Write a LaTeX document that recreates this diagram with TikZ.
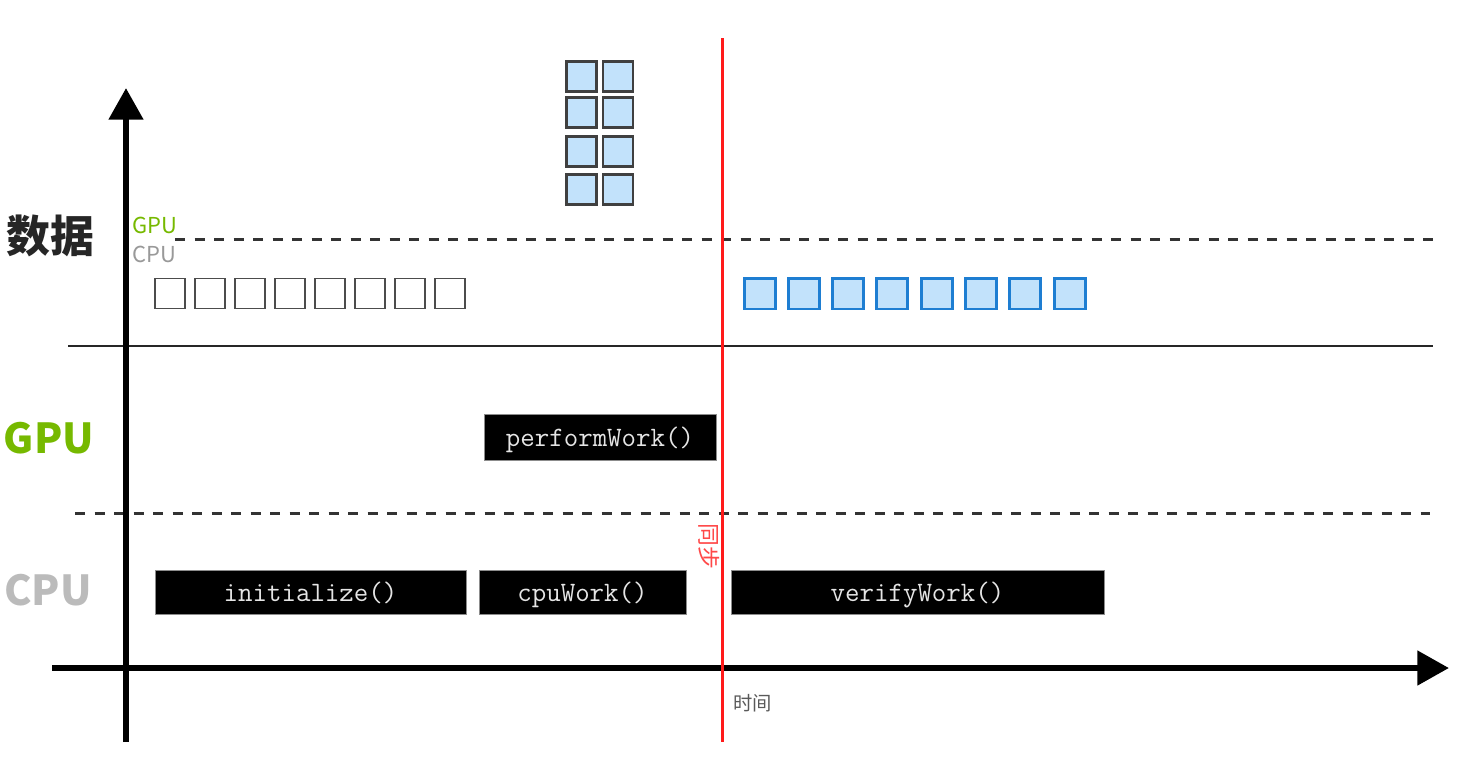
\documentclass[tikz,border=0pt]{standalone}
\usepackage{fontspec}
\setmainfont{Noto Sans}
\newfontfamily\cjk{Noto Sans CJK SC}
\usetikzlibrary{arrows.meta}

\definecolor{gpugreen}{RGB}{118,185,0}
\definecolor{cpugray}{RGB}{187,187,187}
\definecolor{cellblue}{RGB}{194,226,251}
\definecolor{celledge}{RGB}{30,126,210}
\definecolor{syncred}{RGB}{255,26,26}

\tikzset{
  axis/.style={line width=3.7pt, -{Triangle[length=18pt,width=19pt]}},
  lane/.style={line width=1.7pt, dash pattern=on 5.7pt off 5.4pt, black!80},
  callbox/.style={fill=black, draw=black!45, line width=0.5pt, text=black!10,
    font=\ttfamily\fontsize{16}{18}\selectfont, inner sep=0pt, text depth=0pt},
  hostcell/.style={draw=black!70, fill=white, line width=1.1pt, minimum size=0.6cm, inner sep=0pt},
  devcell/.style={draw=celledge, fill=cellblue, line width=1.7pt, minimum size=0.62cm, inner sep=0pt},
  stackcell/.style={draw=black!75, fill=cellblue, line width=1.4pt, minimum size=0.6cm, inner sep=0pt},
}

\begin{document}
\begin{tikzpicture}[x=0.02cm, y=-0.02cm]
    \useasboundingbox (0,0) rectangle (1469,758);

    % Lanes
    \coordinate (gcl) at (175,239);
    \coordinate (gcr) at (1433,239);
    \draw[lane] (gcl) -- (gcr);
    \coordinate (dl) at (68,346);
    \coordinate (dr) at (1433,346);
    \draw[line width=1.4pt, black!85] (dl) -- (dr);
    \coordinate (cgl) at (75,513);
    \coordinate (cgr) at (1430,513);
    \draw[lane] (cgl) -- (cgr);

    % Axes
    \coordinate (ybot) at (126,742);
    \coordinate (ytop) at (126,88);
    \coordinate (xleft) at (52,668);
    \coordinate (xright) at (1449,668);
    \draw[axis] (xleft) -- (xright);
    \draw[axis] (ybot) -- (ytop);

    % Row labels
    \node[font=\cjk\bfseries\fontsize{25}{28}\selectfont, text=black!85] (data) at (50,236) {数据};
    \node[font=\cjk\bfseries\fontsize{23.5}{28}\selectfont, text=gpugreen] (gpu) at (49,438) {GPU};
    \node[font=\cjk\bfseries\fontsize{23.5}{28}\selectfont, text=cpugray] (cpu) at (48,590) {CPU};
    \node[anchor=west, inner sep=0pt, font=\cjk\fontsize{12.5}{14}\selectfont, text=gpugreen] (gpumem) at (132,225) {GPU};
    \node[anchor=west, inner sep=0pt, font=\cjk\fontsize{12.5}{14}\selectfont, text=black!40] (cpumem) at (132,254) {CPU};

    % Data in host memory
    \foreach \i in {0,...,7}
        \node[hostcell] (h\i) at (170+40*\i, 293.5) {};

    % Data in device memory
    \foreach \i in {0,...,7}
        \node[devcell] (d\i) at (759.5+44.3*\i, 293.5) {};

    % Data on the move
    \foreach \c/\x in {0/581.5, 1/618}
        \foreach \r/\y in {0/76.5, 1/112.5, 2/151.5, 3/189.5}
            \node[stackcell] (s\c\r) at (\x,\y) {};

    % Calls
    \node[callbox, minimum width=4.64cm, minimum height=0.92cm] (perform) at (600,437) {performWork()};
    \node[callbox, minimum width=6.22cm, minimum height=0.88cm] (init) at (310.5,592) {initialize()};
    \node[callbox, minimum width=4.14cm, minimum height=0.88cm] (cpuwork) at (582.5,592) {cpuWork()};
    \node[callbox, minimum width=7.46cm, minimum height=0.88cm] (verify) at (917.5,592) {verifyWork()};

    % Sync
    \coordinate (stop) at (722,38);
    \coordinate (sbot) at (722,742);
    \draw[syncred, line width=1.7pt] (stop) -- (sbot);
    \node[rotate=-90, inner sep=0pt, font=\cjk\fontsize{13}{15}\selectfont, text=syncred!80] (sync) at (709,546) {同步};
    \node[anchor=west, inner sep=0pt, font=\cjk\fontsize{11}{13}\selectfont, text=black!65] (time) at (733,703) {时间};
\end{tikzpicture}
\end{document}
